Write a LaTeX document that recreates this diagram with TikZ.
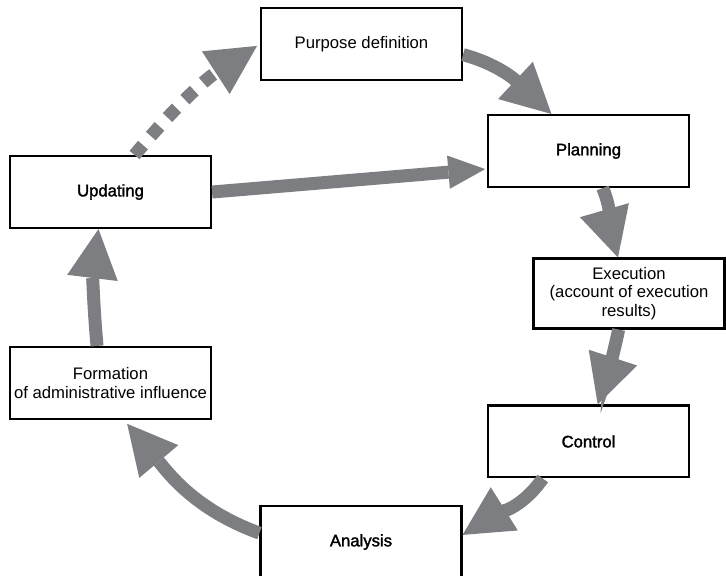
\documentclass[tikz,border=0pt]{standalone}
\usepackage{fontspec}
\setmainfont{Liberation Sans}
\newfontfamily\heavyfont[FakeBold=1.8]{Liberation Sans}
\usetikzlibrary{positioning}
\usetikzlibrary{arrows.meta}
\definecolor{flowgray}{RGB}{125,126,130}

\begin{document}
\begin{tikzpicture}[x=0.02cm,y=-0.02cm,
	>={Triangle[width=29pt,length=28pt,line width=0pt]},
	stage/.style={rectangle,draw,line width=1.2pt,minimum width=4.02cm,
		minimum height=1.44cm,inner sep=1pt,align=center,
		font=\fontsize{9.5}{10.5}\selectfont},
	key stage/.style={stage,font=\fontsize{9.5}{10.5}\selectfont\heavyfont},
	flow/.style={draw,color=flowgray,line width=7.4pt,->},
	small head/.style={-{Triangle[width=19pt,length=21pt,line width=0pt]}},
	dashed flow/.style={flow,dash pattern=on 7.4pt off 6.8pt}]

	\useasboundingbox (0,0) rectangle (726,575);

	\node[stage] (purpose) at (361.5,44) {Purpose definition};
	\node[key stage] (planning) at (588.5,151) {Planning};
	\node[stage,minimum width=3.82cm,minimum height=1.40cm] (execution) at (629,293.5)
		{Execution\\(account of execution\\results)};
	\node[key stage] (control) [below of=planning,node distance=5.81cm] {Control};
	\node[key stage] (analysis) at (361,542) {Analysis};
	\node[stage] (formation) at (110.5,383) {Formation\\of administrative influence};
	\node[key stage] (updating) [above of=formation,node distance=3.82cm] {Updating};

	\path
	(purpose.-6) edge [flow,out=-15,in=137] (planning.135)
	(planning.-69) edge [flow,out=-68,in=106] (execution.107)
	(execution.-106) edge [flow,out=-102,in=72] (control.76)
	(control.-141) edge [flow,out=-125,in=32] (analysis.4)
	(analysis.175) edge [flow,out=160,in=-50,shorten >=2.8pt] (formation.-70)
	(formation.110) edge [flow,out=95,in=-97] (updating.-108)
	(updating.east) edge [flow,small head,shorten >=1pt] (planning.190)
	(updating.57) edge [dashed flow,out=50,in=-147,shorten >=2pt] (purpose.west);
\end{tikzpicture}
\end{document}
